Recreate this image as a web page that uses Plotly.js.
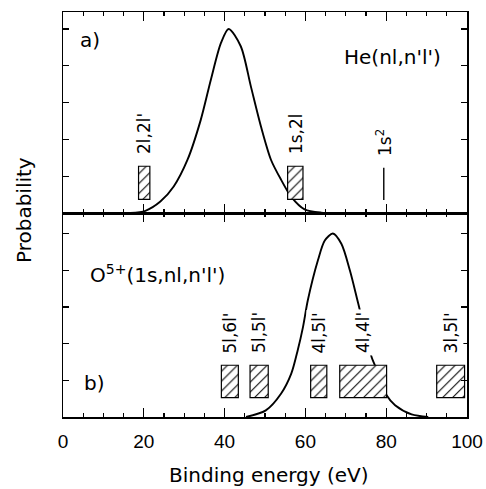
<!DOCTYPE html>
<html>
<head>
<meta charset="utf-8">
<script src="https://cdn.plot.ly/plotly-3.0.1.min.js"></script>
<style>html,body{margin:0;padding:0;background:#fff;}#chart{width:486px;height:489px;}</style>
</head>
<body>
<div id="chart"></div>
<script>
// ---- data ----
// panel a) He(nl,n'l') distribution
var heEnergy = [16.7, 20.4, 24.1, 27.4, 30.8, 34.1, 36.6, 39.1, 41.0, 44.0, 46.5, 49.0, 51.5, 54.0, 56.5, 59.8, 63.9, 68.0];
var heProb   = [0.00, 0.06, 0.31, 0.72, 1.44, 2.53, 3.62, 4.62, 5.00, 4.53, 3.44, 2.35, 1.44, 0.90, 0.44, 0.10, 0.01, 0.00];
// panel b) O5+(1s,nl,n'l') distribution
var oEnergy = [45.3, 50.2, 54.0, 56.5, 58.1, 59.4, 60.6, 63.1, 64.8, 66.8, 68.9, 71.0, 73.0, 76.4, 77.2, 78.6, 80.1, 82.2, 86.3, 90.4];
var oProb   = [0.00, 0.18, 0.64, 1.18, 1.82, 2.45, 3.18, 4.27, 4.81, 5.00, 4.72, 4.00, 3.13, 1.63, 1.41, 1.00, 0.59, 0.32, 0.07, 0.00];

// configuration energy ranges (hatched boxes)
var heBoxLabels = ["2l,2l'", "1s,2l"];
var heBoxStart  = [18.7, 55.6];
var heBoxEnd    = [21.5, 59.4];
var heBoxLow  = 0.37;
var heBoxHigh = 1.27;

var oBoxLabels = ["5l,6l'", "5l,5l'", "4l,5l'", "4l,4l'", "3l,5l'"];
var oBoxStart  = [39.2, 46.3, 61.3, 68.5, 92.5];
var oBoxEnd    = [43.4, 50.8, 65.3, 80.1, 99.4];
var oBoxLow  = 0.53;
var oBoxHigh = 1.41;

// 1s^2 line
var s2Label  = "1s<sup>2</sup>";
var s2Energy = [79.4, 79.4];
var s2Prob   = [0.35, 1.23];

var xTicks = [0, 20, 40, 60, 80, 100];
var yTicks = [1, 2, 3, 4, 5];

// ---- build ----
function centers(a, b) { return a.map(function (v, i) { return (v + b[i]) / 2; }); }
function widths(a, b) { return a.map(function (v, i) { return b[i] - v; }); }
function fill(n, v) { var r = []; for (var i = 0; i < n; i++) r.push(v); return r; }

var hatch = {shape: '/', fgcolor: '#000', bgcolor: '#fff', size: 7, solidity: 0.15, fillmode: 'replace'};

var traces = [
  {x: oEnergy, y: oProb, xaxis: 'x', yaxis: 'y', type: 'scatter', mode: 'lines',
   line: {color: '#000', width: 1.9, shape: 'spline', smoothing: 0.8}, hoverinfo: 'skip'},
  {x: heEnergy, y: heProb, xaxis: 'x2', yaxis: 'y2', type: 'scatter', mode: 'lines',
   line: {color: '#000', width: 1.9, shape: 'spline', smoothing: 0.8}, hoverinfo: 'skip'},
  {x: s2Energy, y: s2Prob, xaxis: 'x2', yaxis: 'y2', type: 'scatter', mode: 'lines',
   line: {color: '#000', width: 1.4}, hoverinfo: 'skip'},
  {type: 'bar', xaxis: 'x', yaxis: 'y3',
   x: centers(oBoxStart, oBoxEnd), width: widths(oBoxStart, oBoxEnd),
   base: fill(oBoxStart.length, oBoxLow), y: fill(oBoxStart.length, oBoxHigh - oBoxLow),
   marker: {color: '#fff', pattern: hatch, line: {color: '#000', width: 1.2}}, hoverinfo: 'skip'},
  {type: 'bar', xaxis: 'x2', yaxis: 'y4',
   x: centers(heBoxStart, heBoxEnd), width: widths(heBoxStart, heBoxEnd),
   base: fill(heBoxStart.length, heBoxLow), y: fill(heBoxStart.length, heBoxHigh - heBoxLow),
   marker: {color: '#fff', pattern: hatch, line: {color: '#000', width: 1.2}}, hoverinfo: 'skip'}
];

var txtFont = {family: 'DejaVu Sans', size: 20, color: '#000'};
var lblFont = {family: 'DejaVu Sans', size: 17, color: '#000'};

var ann = [];
var oc = centers(oBoxStart, oBoxEnd);
oBoxLabels.forEach(function (t, i) {
  ann.push({text: t, x: oc[i], y: oBoxHigh, xref: 'x', yref: 'y', textangle: -90,
            xanchor: 'center', yanchor: 'bottom', yshift: 9, showarrow: false,
            font: lblFont, bgcolor: '#fff', borderpad: 2});
});
var hc = centers(heBoxStart, heBoxEnd);
heBoxLabels.forEach(function (t, i) {
  ann.push({text: t, x: hc[i], y: heBoxHigh, xref: 'x2', yref: 'y2', textangle: -90,
            xanchor: 'center', yanchor: 'bottom', yshift: 9, showarrow: false,
            font: lblFont, bgcolor: '#fff', borderpad: 2});
});
ann.push({text: s2Label, x: s2Energy[0], y: s2Prob[1], xref: 'x2', yref: 'y2', textangle: -90,
          xanchor: 'center', yanchor: 'bottom', yshift: 9, showarrow: false,
          font: lblFont, borderpad: 2});

ann.push({text: 'a)', x: 3.7, y: 4.69, xref: 'x2', yref: 'y2', xanchor: 'left', yanchor: 'middle', showarrow: false, font: txtFont});
ann.push({text: "He(nl,n'l')", x: 94.1, y: 4.25, xref: 'x2', yref: 'y2', xanchor: 'right', yanchor: 'middle', showarrow: false, font: txtFont});
ann.push({text: "O<sup>5+</sup>(1s,nl,n'l')", x: 6.2, y: 3.9, xref: 'x', yref: 'y', xanchor: 'left', yanchor: 'middle', showarrow: false, font: txtFont});
ann.push({text: 'b)', x: 4.6, y: 0.93, xref: 'x', yref: 'y', xanchor: 'left', yanchor: 'middle', showarrow: false, font: txtFont});
ann.push({text: 'Probability', x: 0, y: 0.511, xref: 'paper', yref: 'paper', xshift: -39, textangle: -90,
          xanchor: 'center', yanchor: 'middle', showarrow: false, font: txtFont});
ann.push({text: 'Binding energy (eV)', x: 0.51, y: 0, xref: 'paper', yref: 'paper', yshift: -58,
          xanchor: 'center', yanchor: 'middle', showarrow: false, font: txtFont});

var split = 0.5037;
function xax(extra) {
  var a = {range: [0, 100], tickvals: xTicks, ticks: 'inside', ticklen: 9, tickwidth: 1.2, tickcolor: '#000',
    minor: {dtick: 5, tick0: 0, ticks: 'inside', ticklen: 4, tickwidth: 1.2, tickcolor: '#000'},
    showline: true, linecolor: '#000', linewidth: 1.5, mirror: 'ticks',
    showgrid: false, zeroline: false, fixedrange: true,
    tickfont: {family: 'Liberation Sans', size: 19, color: '#000'}};
  for (var k in extra) a[k] = extra[k];
  return a;
}
function yax(extra) {
  var a = {tickvals: yTicks, ticks: 'inside', ticklen: 6, tickwidth: 1.2, tickcolor: '#000',
    showticklabels: false, showline: true, linecolor: '#000', linewidth: 1.5, mirror: 'ticks',
    showgrid: false, zeroline: false, fixedrange: true};
  for (var k in extra) a[k] = extra[k];
  return a;
}

var layout = {
  width: 486, height: 489,
  margin: {l: 63, r: 19, t: 12, b: 72, pad: 0},
  paper_bgcolor: '#fff', plot_bgcolor: 'rgba(0,0,0,0)',
  showlegend: false, barmode: 'overlay', bargap: 0,
  xaxis: xax({anchor: 'y', domain: [0, 1], ticklabelstandoff: 7}),
  xaxis2: xax({anchor: 'y2', domain: [0, 1], matches: 'x', showticklabels: false}),
  yaxis: yax({domain: [0, split], range: [0, 5.56], anchor: 'x'}),
  yaxis2: yax({domain: [split, 1], range: [0, 5.46], anchor: 'x2'}),
  yaxis3: {overlaying: 'y', range: [0, 5.56], visible: false, fixedrange: true},
  yaxis4: {overlaying: 'y2', anchor: 'x2', range: [0, 5.46], visible: false, fixedrange: true},
  annotations: ann
};

Plotly.newPlot('chart', traces, layout, {staticPlot: true, displayModeBar: false});
</script>
</body>
</html>
